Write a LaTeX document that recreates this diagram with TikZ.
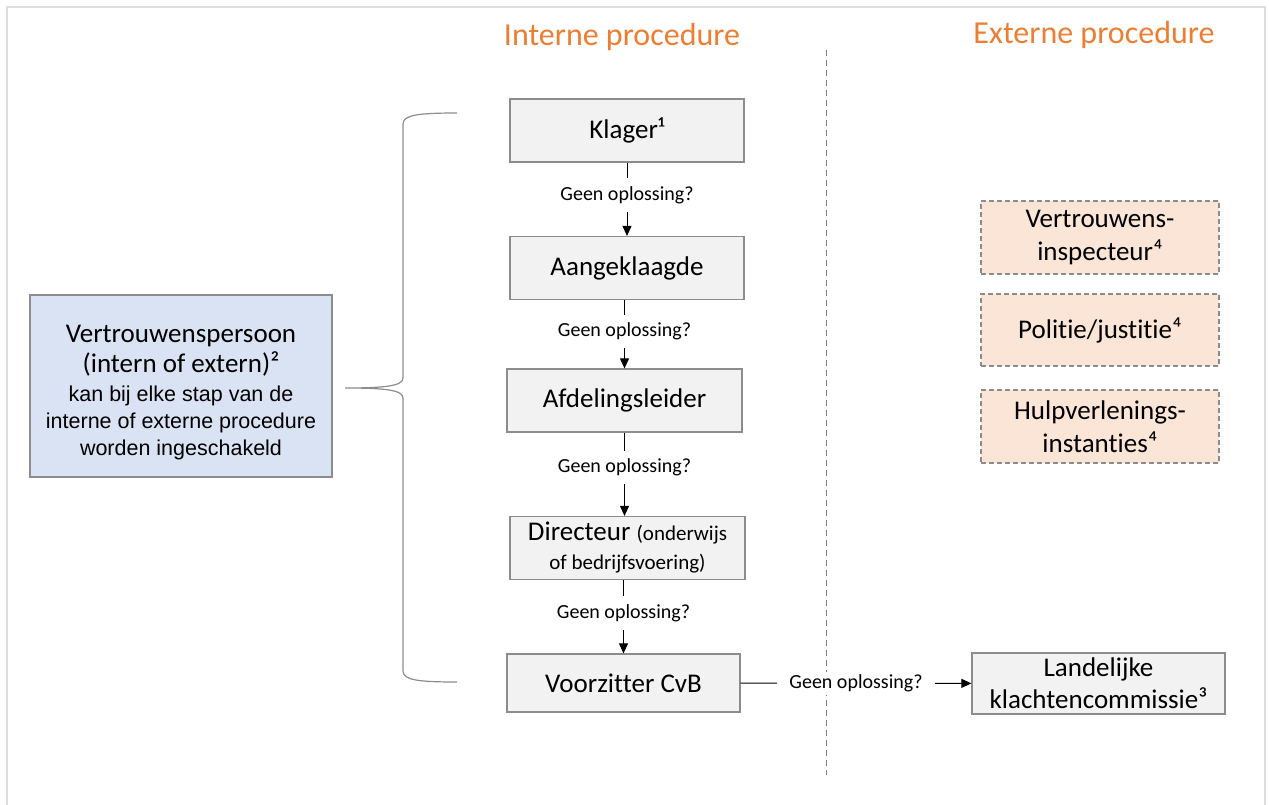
\documentclass[tikz,border=0pt]{standalone}
\usepackage{fontspec}
\setmainfont{Carlito}[Ligatures=NoCommon]
\newfontfamily\arialfont{Liberation Sans}
\usetikzlibrary{arrows.meta}
\definecolor{boxgray}{HTML}{F2F2F2}
\definecolor{boxline}{HTML}{8C8C8C}
\definecolor{bluefill}{HTML}{DAE3F3}
\definecolor{orangefill}{HTML}{FBE5D6}
\definecolor{titleorange}{HTML}{ED7D31}
\definecolor{framegray}{HTML}{DDDDDD}
\tikzset{
  graybox/.style={draw=boxline, line width=1.2pt, fill=boxgray, minimum width=234pt, minimum height=63pt, inner sep=0pt, align=center, font=\fontsize{27}{32}\selectfont},
  extbox/.style={draw=boxline, line width=1.2pt, dash pattern=on 5pt off 3pt, fill=orangefill, minimum width=238pt, minimum height=73pt, inner sep=0pt, align=center, font=\fontsize{27}{33}\selectfont},
  bluebox/.style={draw=boxline, line width=1.2pt, fill=bluefill, minimum width=302pt, minimum height=182pt, inner sep=0pt, align=center, font=\fontsize{27}{30}\selectfont},
  titletext/.style={text=titleorange, font=\fontsize{32}{36}\selectfont},
  question/.style={fill=white, inner xsep=3pt, inner ysep=8pt, font=\fontsize{20}{24}\selectfont},
  flow/.style={draw=black, line width=0.9pt, -{Triangle[length=10pt,width=9pt]}},
}
\begin{document}
\begin{tikzpicture}[x=1pt,y=-1pt]
\useasboundingbox (0,0) rectangle (1269,804);
\begin{scope}
\clip (0,0) rectangle (1269,804);
\draw[framegray, line width=1.5pt] (7,7) rectangle (1265,830);
\end{scope}

% titles
\node[titletext] (tint) at (622,37) {Interne procedure};
\node[titletext] (text) at (1094,35) {Externe procedure};

% divider
\coordinate (dtop) at (826,50);
\coordinate (dbot) at (826,775);
\draw[gray, line width=0.9pt, dash pattern=on 6pt off 4pt] (dtop) -- (dbot);

% internal chain
\node[graybox] (klager) at (627,130.5) {Klager¹};
\node[graybox] (aang) at (627,268) {Aangeklaagde};
\node[graybox, minimum width=235pt] (afd) at (624.5,400.5) {Afdelingsleider};
\node[graybox, minimum width=235pt] (dir) at (627.5,548) {Directeur {\fontsize{21}{30}\selectfont(onderwijs}\\[-3pt]{\fontsize{21}{30}\selectfont of bedrijfsvoering)}};
\node[graybox, minimum width=233pt, minimum height=58pt] (vz) at (623.5,683) {Voorzitter CvB};
\node[graybox, minimum width=253pt, minimum height=61pt] (land) at (1098.5,683.5) {Landelijke\\klachtencommissie³};

% external boxes
\node[extbox] (insp) at (1100,237.5) {Vertrouwens-\\inspecteur⁴};
\node[extbox, minimum height=72pt] (pol) at (1100,330) {Politie/justitie⁴};
\node[extbox] (hulp) at (1100,426.5) {Hulpverlenings-\\instanties⁴};

% vertrouwenspersoon
\node[bluebox] (vp) at (181,386) {\rule{0pt}{30pt}Vertrouwenspersoon\\(intern of extern)²\\[-1pt]{\arialfont\fontsize{21.5}{27}\selectfont kan bij elke stap van de}\\[-3pt]{\arialfont\fontsize{21.5}{27}\selectfont interne of externe procedure}\\[-3pt]{\arialfont\fontsize{21.5}{27}\selectfont worden ingeschakeld}};

% flows
\draw[flow] (klager) -- node[question, pos=0.44] {Geen oplossing?} (aang);
\draw[flow] (afd.north |- aang.south) -- node[question, pos=0.46] {Geen oplossing?} (afd.north);
\draw[flow] (afd.south) -- node[question, pos=0.42] {Geen oplossing?} (afd.south |- dir.north);
\draw[flow] (vz.north |- dir.south) -- node[question, pos=0.45] {Geen oplossing?} (vz.north);
\draw[flow] (vz) -- node[question, pos=0.5, inner xsep=12pt, inner ysep=3pt] {Geen oplossing?} (land);

% brace
\coordinate (btop) at (457,113);
\coordinate (bbot) at (457,682);
\coordinate (btip) at (345,388);
\draw[boxline, line width=1.2pt] (btop) .. controls (418,113) and (403,115) .. (403,124)
  -- (403,378) .. controls (403,386) and (385,388) .. (btip)
  .. controls (385,388) and (403,390) .. (403,398)
  -- (403,671) .. controls (403,680) and (418,682) .. (bbot);
\end{tikzpicture}
\end{document}
